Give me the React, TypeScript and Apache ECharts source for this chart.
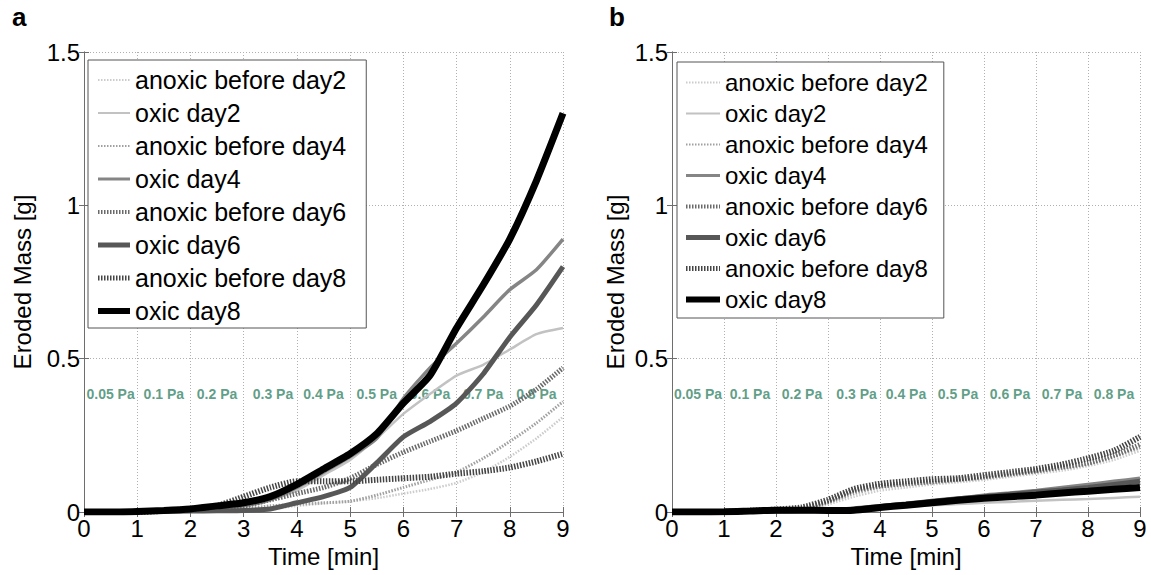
import React, { useEffect, useRef } from "react";
import * as echarts from "echarts";

// ---- data ----
const TIME = [0, 0.5, 1, 1.5, 2, 2.5, 3, 3.5, 4, 4.5, 5, 5.5, 6, 6.5, 7, 7.5, 8, 8.5, 9];
const SERIES_NAMES = [
  "anoxic before day2",
  "oxic day2",
  "anoxic before day4",
  "oxic day4",
  "anoxic before day6",
  "oxic day6",
  "anoxic before day8",
  "oxic day8",
];

// panel a
const A_ANOXIC2 = [0, 0, 0, 0.002, 0.003, 0.004, 0.005, 0.01, 0.02, 0.028, 0.035, 0.045, 0.06, 0.075, 0.095, 0.13, 0.18, 0.24, 0.31];
const A_OXIC2 = [0, 0, 0, 0.003, 0.006, 0.01, 0.02, 0.04, 0.07, 0.12, 0.17, 0.24, 0.32, 0.385, 0.445, 0.48, 0.53, 0.58, 0.6];
const A_ANOXIC4 = [0, 0, 0, 0.002, 0.004, 0.006, 0.01, 0.02, 0.025, 0.03, 0.035, 0.055, 0.08, 0.105, 0.13, 0.175, 0.23, 0.29, 0.36];
const A_OXIC4 = [0, 0, 0, 0.004, 0.008, 0.012, 0.02, 0.04, 0.08, 0.13, 0.18, 0.24, 0.37, 0.47, 0.55, 0.635, 0.725, 0.79, 0.89];
const A_ANOXIC6 = [0, 0, 0, 0.004, 0.008, 0.012, 0.02, 0.04, 0.06, 0.08, 0.11, 0.155, 0.195, 0.23, 0.265, 0.305, 0.345, 0.4, 0.47];
const A_OXIC6 = [0, 0, 0, 0.002, 0.003, 0.004, 0.005, 0.01, 0.03, 0.05, 0.08, 0.16, 0.245, 0.295, 0.355, 0.45, 0.57, 0.675, 0.8];
const A_ANOXIC8 = [0, 0, 0, 0.004, 0.01, 0.02, 0.05, 0.08, 0.1, 0.1, 0.1, 0.105, 0.11, 0.115, 0.125, 0.133, 0.145, 0.165, 0.19];
const A_OXIC8 = [0, 0, 0.002, 0.005, 0.01, 0.02, 0.03, 0.05, 0.09, 0.14, 0.19, 0.255, 0.355, 0.445, 0.6, 0.74, 0.89, 1.08, 1.3];

// panel b
const B_ANOXIC2 = [0, 0, 0, 0.002, 0.004, 0.008, 0.025, 0.05, 0.07, 0.08, 0.09, 0.097, 0.105, 0.115, 0.125, 0.135, 0.15, 0.17, 0.2];
const B_OXIC2 = [0, 0, 0, 0.001, 0.002, 0.003, 0.004, 0.007, 0.012, 0.017, 0.022, 0.026, 0.03, 0.033, 0.037, 0.04, 0.042, 0.046, 0.05];
const B_ANOXIC4 = [0, 0, 0, 0.002, 0.005, 0.01, 0.03, 0.06, 0.08, 0.088, 0.095, 0.102, 0.11, 0.12, 0.13, 0.142, 0.155, 0.18, 0.21];
const B_OXIC4 = [0, 0, 0, 0.001, 0.002, 0.003, 0.004, 0.01, 0.02, 0.027, 0.035, 0.045, 0.055, 0.062, 0.07, 0.08, 0.09, 0.1, 0.11];
const B_ANOXIC6 = [0, 0, 0, 0.003, 0.006, 0.012, 0.035, 0.07, 0.085, 0.093, 0.1, 0.107, 0.115, 0.125, 0.135, 0.147, 0.16, 0.185, 0.22];
const B_OXIC6 = [0, 0, 0, 0.002, 0.003, 0.004, 0.005, 0.01, 0.018, 0.026, 0.035, 0.043, 0.05, 0.058, 0.065, 0.072, 0.08, 0.09, 0.1];
const B_ANOXIC8 = [0, 0, 0, 0.004, 0.008, 0.015, 0.04, 0.075, 0.092, 0.1, 0.107, 0.11, 0.12, 0.13, 0.14, 0.155, 0.175, 0.2, 0.245];
const B_OXIC8 = [0, 0, 0.001, 0.003, 0.006, 0.006, 0.005, 0.006, 0.015, 0.022, 0.03, 0.038, 0.045, 0.05, 0.055, 0.062, 0.068, 0.074, 0.08];

const PANEL_A = [A_ANOXIC2, A_OXIC2, A_ANOXIC4, A_OXIC4, A_ANOXIC6, A_OXIC6, A_ANOXIC8, A_OXIC8];
const PANEL_B = [B_ANOXIC2, B_OXIC2, B_ANOXIC4, B_OXIC4, B_ANOXIC6, B_OXIC6, B_ANOXIC8, B_OXIC8];

const PA_LABELS = ["0.05 Pa", "0.1 Pa", "0.2 Pa", "0.3 Pa", "0.4 Pa", "0.5 Pa", "0.6 Pa", "0.7 Pa", "0.8 Pa"];
const PA_X = [0.5, 1.5, 2.5, 3.55, 4.5, 5.5, 6.5, 7.5, 8.5];
const PA_Y = 0.385;

const X_TICKS = [0, 1, 2, 3, 4, 5, 6, 7, 8, 9];
const Y_TICKS = [0, 0.5, 1, 1.5];

// ---- styles ----
const COLORS = ["#cccccc", "#c2c2c2", "#a0a0a0", "#858585", "#6a6a6a", "#575757", "#454545", "#000000"];
const WIDTHS = [2.5, 2.5, 3, 3.5, 5, 5, 6, 7];
const DASHES: (number[] | "solid")[] = [[1.5, 1.5], "solid", [1.5, 1.5], "solid", [1.5, 1.5], "solid", [1.5, 1.5], "solid"];
const LEGEND_WIDTHS = [2, 2, 2, 3, 4, 5, 5, 6];

const FONT = "Liberation Sans";

export default function App() {
  const ref = useRef<HTMLDivElement>(null);
  useEffect(() => {
    document.body.style.margin = "0";
    const chart = echarts.init(ref.current!, null, { renderer: "svg" });

    const grids = [
      { left: 84, right: 588, top: 52, bottom: 63 },
      { left: 672, right: 11, top: 52, bottom: 63 },
    ];
    const yNameGaps = [50, 45];

    const xAxes: any[] = [];
    const yAxes: any[] = [];
    const axisLineStyle = { color: "#6e6e6e", width: 1 };
    [0, 1].forEach((g) => {
      xAxes.push({
        type: "value",
        gridIndex: g,
        min: X_TICKS[0],
        max: X_TICKS[X_TICKS.length - 1],
        interval: 1,
        name: "Time [min]",
        nameLocation: "middle",
        nameGap: 22,
        nameTextStyle: { fontSize: 24, fontFamily: FONT, color: "#000" },
        axisLine: { show: true, lineStyle: axisLineStyle },
        axisTick: { show: true, inside: true, length: 5, lineStyle: axisLineStyle },
        axisLabel: { fontSize: 24, fontFamily: FONT, color: "#000", margin: 4 },
        splitLine: { show: true, lineStyle: { color: "#b0b0b0", type: [1, 2], width: 1 } },
      });
      yAxes.push({
        type: "value",
        gridIndex: g,
        min: Y_TICKS[0],
        max: Y_TICKS[Y_TICKS.length - 1],
        interval: 0.5,
        name: "Eroded Mass [g]",
        nameLocation: "middle",
        nameGap: yNameGaps[g],
        nameTextStyle: { fontSize: 24, fontFamily: FONT, color: "#000" },
        axisLine: { show: true, lineStyle: axisLineStyle },
        axisTick: { show: true, inside: true, length: 5, lineStyle: axisLineStyle },
        axisLabel: { fontSize: 24, fontFamily: FONT, color: "#000", margin: 4 },
        splitLine: { show: true, lineStyle: { color: "#b0b0b0", type: [1, 2], width: 1 } },
      });
    });
    [0, 1].forEach((g) => {
      xAxes.push({
        type: "value",
        gridIndex: g,
        position: "top",
        min: 0,
        max: 9,
        interval: 1,
        axisLine: { show: true, lineStyle: axisLineStyle },
        axisTick: { show: true, inside: true, length: 5, lineStyle: axisLineStyle },
        axisLabel: { show: false },
        splitLine: { show: false },
      });
      yAxes.push({
        type: "value",
        gridIndex: g,
        position: "right",
        min: 0,
        max: 1.5,
        interval: 0.5,
        axisLine: { show: true, lineStyle: axisLineStyle },
        axisTick: { show: true, inside: true, length: 5, lineStyle: axisLineStyle },
        axisLabel: { show: false },
        splitLine: { show: false },
      });
    });

    const series: any[] = [];
    [PANEL_A, PANEL_B].forEach((panel, p) => {
      series.push({
        type: "scatter",
        name: "shear stress " + p,
        xAxisIndex: p,
        yAxisIndex: p,
        symbolSize: 0,
        silent: true,
        z: 1,
        data: PA_LABELS.map((lab, k) => ({ name: lab, value: [PA_X[k], PA_Y] })),
        label: {
          show: true,
          position: "inside",
          formatter: "{b}",
          color: "#358567",
          fontSize: 14,
          fontWeight: "bold",
          fontFamily: FONT,
        },
      });
      panel.forEach((vals, i) => {
        series.push({
          type: "line",
          name: SERIES_NAMES[i],
          xAxisIndex: p,
          yAxisIndex: p,
          symbol: "none",
          smooth: 0.2,
          silent: true,
          z: 3,
          lineStyle: { color: COLORS[i], width: WIDTHS[i], type: DASHES[i], cap: "butt" },
          itemStyle: { color: COLORS[i] },
          data: TIME.map((t, k) => [t, vals[k]]),
        });
      });
    });

    const legendData = SERIES_NAMES.map((n, i) => ({
      name: n,
      itemStyle: { opacity: 0 },
      lineStyle: { color: COLORS[i], width: LEGEND_WIDTHS[i], type: DASHES[i] === "solid" ? "solid" : [1.5, 1.5], opacity: 1 },
    }));

    const legendBase = {
      orient: "vertical",
      selectedMode: false,
      backgroundColor: "#fff",
      borderColor: "#555",
      borderWidth: 1,
      data: legendData,
    };

    chart.setOption({
      animation: false,
      backgroundColor: "#fff",
      grid: grids,
      xAxis: xAxes,
      yAxis: yAxes,
      legend: [
        {
          ...legendBase,
          left: 88,
          top: 60,
          padding: [7, 20, 4, 7],
          itemWidth: 32,
          itemHeight: 14,
          itemGap: 7,
          textStyle: { fontSize: 25, fontFamily: FONT, color: "#000", lineHeight: 26 },
        },
        {
          ...legendBase,
          left: 677,
          top: 62,
          padding: [8, 16, 6, 6],
          itemWidth: 34,
          itemHeight: 14,
          itemGap: 6,
          textStyle: { fontSize: 24, fontFamily: FONT, color: "#000", lineHeight: 25 },
        },
      ],
      graphic: [
        { type: "text", left: 12, top: 4, style: { text: "a", fontSize: 26, fontWeight: "bold", fontFamily: FONT, fill: "#000" } },
        { type: "text", left: 609, top: 4, style: { text: "b", fontSize: 26, fontWeight: "bold", fontFamily: FONT, fill: "#000" } },
      ],
      series,
    });
    return () => chart.dispose();
  }, []);
  return <div ref={ref} style={{ position: "fixed", left: 0, top: 0, width: 1151, height: 575 }} />;
}
